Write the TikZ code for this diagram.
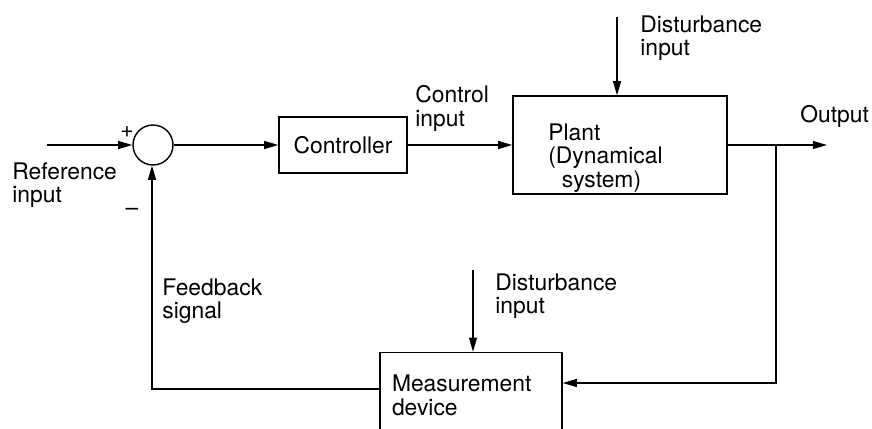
\documentclass[tikz,border=0pt]{standalone}
\usepackage{fontspec}
\setmainfont{TeX Gyre Heros}
\usepackage{tikz}
\usetikzlibrary{arrows.meta, positioning, calc}

\tikzset{
  block/.style={draw, rectangle, inner sep=0pt, line width=0.8pt},
  txt/.style={inner sep=0pt, anchor=north west, align=left},
  arr/.style={line width=0.8pt, -{Triangle[length=8pt, width=4.5pt]}},
  wire/.style={line width=0.8pt}
}

\begin{document}
\begin{tikzpicture}[x=0.2mm, y=-0.2mm, every node/.style={font=\fontsize{13}{13.5}\selectfont}]
        \useasboundingbox (0,0) rectangle (872,428);
        \clip (0,0) rectangle (872,428);
        % Blocks of the loop
        \node[draw, circle, line width=0.8pt, minimum size=0.8cm, inner sep=0pt] (sum) at (153,145) {};
        \node[block, minimum width=2.56cm, minimum height=1.12cm] (ctrl) at (343,145) {Controller};
        \node[block, minimum width=4.28cm, minimum height=1.96cm] (plant) at (620,145) {};
        \node[txt] (plantlbl) at (548,123) {Plant\\(Dynamical\\\hspace*{0.27cm}system)};
        \node[block, minimum width=3.64cm, minimum height=1.7cm, align=left, text width=3.16cm] (meas) at (471,395) {Measurement\\device};
        % Free ends and corners
        \coordinate (refin) at (47,145);
        \coordinate (distup) at (617,17);
        \coordinate (distlow) at (473,270);
        \coordinate (outend) at (827,145);
        \coordinate (branch) at (776,145);
        \coordinate (mret) at (776,383);
        \coordinate (fbcorner) at (152,389);
        % Forward path
        \draw[arr] (refin) -- (sum.west);
        \draw[arr] (sum.east) -- (ctrl.west);
        \draw[arr] (ctrl.east) -- (plant.west);
        \draw[arr] (plant.east) -- (outend);
        \draw[arr] (distup) -- (distup |- plant.north);
        % Feedback path
        \draw[arr] (branch) -- (mret) -- (mret -| meas.east);
        \draw[arr] (distlow) -- (distlow |- meas.north);
        \draw[arr] (fbcorner -| meas.west) -- (fbcorner) -- (fbcorner |- sum.south);
        % Labels
        \node (plus) at (127,132) {+};
        \node (minus) at (132,212) {--};
        \node[txt] (reflbl) at (12,162) {Reference\\input};
        \node[txt] (ctrlinlbl) at (415,85) {Control\\input};
        \node[txt] (distuplbl) at (640,15) {Disturbance\\input};
        \node[txt] (outlbl) at (800,105) {Output};
        \node[txt] (fblbl) at (162,278) {Feedback\\signal};
        \node[txt] (distlowlbl) at (495,273) {Disturbance\\input};
      \end{tikzpicture}
\end{document}
